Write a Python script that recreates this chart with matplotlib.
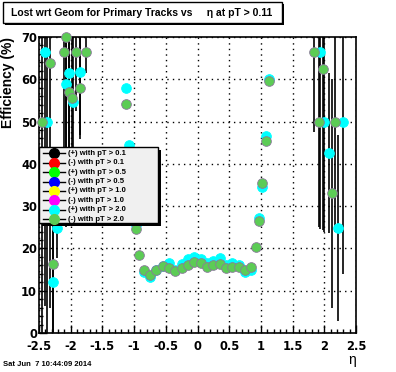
import matplotlib
matplotlib.use('Agg')
import matplotlib.pyplot as plt
from matplotlib.patches import Rectangle

plt.rcParams['font.family'] = ['Liberation Sans', 'DejaVu Sans']
plt.rcParams['font.weight'] = 'bold'

# ---- data ----
labels = ['(+) with pT > 0.1', '(-) with pT > 0.1', '(+) with pT > 0.5', '(-) with pT > 0.5',
          '(+) with pT > 1.0', '(-) with pT > 1.0', '(+) with pT > 2.0', '(-) with pT > 2.0']
colors = ['#000000', '#ff0000', '#00ff00', '#0000ff', '#ffff00', '#ff00ff', '#00ffff', '#5ccc55']

# (+) with pT > 2.0  (cyan)
cyan_eta = [-2.41, -2.38, -2.28, -2.21, -2.07, -2.02, -1.97, -1.85, -1.13, -1.08, -0.97,
            -0.85, -0.75, -0.65, -0.55, -0.45, -0.35, -0.25, -0.15, -0.05,
            0.05, 0.15, 0.25, 0.35, 0.45, 0.55, 0.65, 0.75, 0.85,
            0.97, 1.02, 1.08, 1.13, 1.93, 1.995, 2.08, 2.215, 2.29]
cyan_eff = [66.5, 50.0, 12.1, 24.8, 59.0, 61.4, 54.7, 61.8, 57.9, 44.5, 25.5,
            14.5, 13.2, 14.8, 15.8, 16.5, 15.0, 16.2, 17.5, 18.0,
            17.5, 16.5, 17.0, 17.8, 16.0, 16.5, 16.0, 14.5, 14.8,
            27.1, 34.5, 46.5, 60.0, 66.5, 50.0, 42.6, 24.8, 50.0]
cyan_err = [60, 50, 12, 7, 30, 35, 20, 15, 0, 0, 0,
            0, 0, 0, 0, 0, 0, 0, 0, 0,
            0, 0, 0, 0, 0, 0, 0, 0, 0,
            0, 0, 0, 0, 42, 26, 19, 22, 36]

# (-) with pT > 2.0  (green)
green_eta = [-2.46, -2.32, -2.28, -2.10, -2.07, -2.02, -1.98, -1.92, -1.86, -1.76, -1.13, -0.97, -0.92,
             -0.85, -0.75, -0.65, -0.55, -0.45, -0.35, -0.25, -0.15, -0.05,
             0.05, 0.15, 0.25, 0.35, 0.45, 0.55, 0.65, 0.75, 0.85,
             0.92, 0.97, 1.02, 1.08, 1.13, 1.83, 1.92, 1.985, 2.126, 2.17]
green_eff = [50.0, 63.8, 16.3, 66.5, 70.0, 57.1, 55.5, 66.5, 57.9, 66.5, 54.1, 24.5, 18.4,
             15.0, 13.8, 15.0, 15.8, 15.3, 14.6, 15.4, 16.0, 16.8,
             16.5, 15.7, 16.0, 16.2, 15.3, 15.6, 15.5, 15.0, 15.7,
             20.3, 26.6, 35.4, 45.3, 59.6, 66.5, 50.0, 62.4, 33.0, 50.0]
green_err = [50, 58, 16, 40, 45, 25, 30, 14, 12, 5, 0, 0, 0,
             0, 0, 0, 0, 0, 0, 0, 0, 0,
             0, 0, 0, 0, 0, 0, 0, 0, 0,
             0, 0, 0, 0, 0, 19, 25, 38, 27, 26]

xticks = [-2.5, -2, -1.5, -1, -0.5, 0, 0.5, 1, 1.5, 2, 2.5]
xticklabels = ['-2.5', '-2', '-1.5', '-1', '-0.5', '0', '0.5', '1', '1.5', '2', '2.5']
yticks = [0, 10, 20, 30, 40, 50, 60, 70]

# ---- figure ----
W, H = 396, 372
fig = plt.figure(figsize=(W/100, H/100), dpi=100)
ax = fig.add_axes([39/W, 1-333/H, 317/W, 296/H])
ax.set_xlim(-2.5, 2.5)
ax.set_ylim(0, 70)

ax.errorbar(cyan_eta, cyan_eff, yerr=cyan_err, fmt='none', ecolor='black', elinewidth=1.2, capsize=0, zorder=2)
ax.errorbar(green_eta, green_eff, yerr=green_err, fmt='none', ecolor='black', elinewidth=1.2, capsize=0, zorder=2)
ax.plot(cyan_eta, cyan_eff, 'o', ms=7, mfc=colors[6], mec=colors[6], mew=0.6, zorder=3, clip_on=False)
ax.plot(green_eta, green_eff, 'o', ms=7, mfc=colors[7], mec='#8a7a9a', mew=0.6, zorder=4, clip_on=False)

ax.set_xticks(xticks)
ax.set_xticklabels(xticklabels)
ax.set_yticks(yticks)
ax.set_xticks([x/10 for x in range(-25, 26)], minor=True)
ax.set_yticks(list(range(0, 71, 2)), minor=True)
ax.tick_params(which='major', direction='in', length=6, width=1, labelsize=8.3, pad=1.5,
               top=False, right=False)
ax.tick_params(axis='x', which='major', pad=5)
ax.tick_params(which='minor', direction='in', length=3, width=1, top=False, right=False)
for lab in ax.get_xticklabels() + ax.get_yticklabels():
    lab.set_family('DejaVu Sans')
    lab.set_fontweight('bold')
ax.grid(True, which='major', color='black', linestyle=(0, (1, 3)), linewidth=1)
for s in ax.spines.values():
    s.set_linewidth(1.2)

ax.set_ylabel('Efficiency (%)', fontsize=10, fontweight='bold', loc='top', labelpad=4)
ax.set_xlabel('η', fontsize=10, loc='right', labelpad=0, fontweight='normal')

# overlay in pixel coordinates for legend / title / date
ov = fig.add_axes([0, 0, 1, 1], zorder=10)
ov.set_xlim(0, W)
ov.set_ylim(H, 0)
ov.axis('off')
ov.patch.set_alpha(0)

# legend box with shadow
ov.add_patch(Rectangle((42, 150), 119, 76, facecolor='black', edgecolor='black', lw=0))
ov.add_patch(Rectangle((39, 147), 119, 76, facecolor='#f0f0f0', edgecolor='black', lw=1))
for i, (lab, c) in enumerate(zip(labels, colors)):
    yy = 153.3 + i * 9.4
    ov.plot([43, 65], [yy, yy], color='black', lw=1)
    ov.plot([54], [yy], 'o', ms=7, mfc=c, mec=c)
    ov.text(68, yy, lab, fontsize=5.5, fontweight='bold', va='center', ha='left')

# title box with shadow
ov.add_patch(Rectangle((5, 4), 279, 21, facecolor='black', edgecolor='black', lw=0))
ov.add_patch(Rectangle((3, 2), 279, 21, facecolor='white', edgecolor='black', lw=1))
ov.text(142, 13, 'Lost wrt Geom for Primary Tracks vs     η at pT > 0.11',
        ha='center', va='center', fontsize=7.5, fontweight='bold')

ov.text(3, 366, 'Sat Jun  7 10:44:09 2014', fontsize=5.5, fontweight='bold', va='baseline')

fig.savefig('out.png', dpi=100)
